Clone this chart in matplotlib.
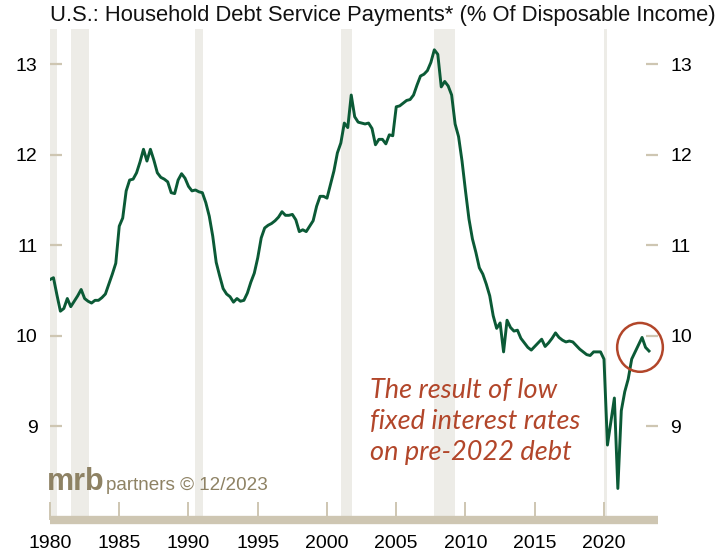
import matplotlib
matplotlib.use("Agg")
import matplotlib.pyplot as plt
from matplotlib.patches import Ellipse
import numpy as np

# Quarterly household debt service ratio, % of disposable income, from 1980 Q1
start_year = 1980
debt_service = [
    10.62, 10.64, 10.45, 10.27,   # 1980
    10.30, 10.41, 10.32, 10.38,   # 1981
    10.44, 10.51, 10.41, 10.38,   # 1982
    10.36, 10.39, 10.39, 10.42,   # 1983
    10.46, 10.57, 10.68, 10.80,   # 1984
    11.21, 11.30, 11.60, 11.72,   # 1985
    11.73, 11.80, 11.92, 12.06,   # 1986
    11.93, 12.06, 11.94, 11.80,   # 1987
    11.75, 11.73, 11.70, 11.58,   # 1988
    11.57, 11.72, 11.79, 11.74,   # 1989
    11.65, 11.60, 11.61, 11.59,   # 1990
    11.58, 11.47, 11.32, 11.10,   # 1991
    10.81, 10.66, 10.52, 10.46,   # 1992
    10.43, 10.37, 10.41, 10.38,   # 1993
    10.39, 10.47, 10.59, 10.69,   # 1994
    10.86, 11.08, 11.19, 11.22,   # 1995
    11.24, 11.27, 11.31, 11.37,   # 1996
    11.33, 11.33, 11.34, 11.28,   # 1997
    11.15, 11.17, 11.15, 11.21,   # 1998
    11.27, 11.43, 11.54, 11.54,   # 1999
    11.52, 11.67, 11.82, 12.02,   # 2000
    12.13, 12.35, 12.30, 12.66,   # 2001
    12.42, 12.36, 12.35, 12.34,   # 2002
    12.35, 12.29, 12.11, 12.17,   # 2003
    12.17, 12.12, 12.22, 12.21,   # 2004
    12.53, 12.54, 12.57, 12.60,   # 2005
    12.61, 12.66, 12.77, 12.87,   # 2006
    12.89, 12.93, 13.02, 13.16,   # 2007
    13.11, 12.75, 12.81, 12.76,   # 2008
    12.66, 12.34, 12.20, 11.93,   # 2009
    11.60, 11.29, 11.07, 10.92,   # 2010
    10.75, 10.68, 10.57, 10.44,   # 2011
    10.22, 10.08, 10.14, 9.82,    # 2012
    10.17, 10.09, 10.05, 10.06,   # 2013
    9.97, 9.92, 9.87, 9.84,       # 2014
    9.88, 9.92, 9.96, 9.88,       # 2015
    9.92, 9.97, 10.03, 9.98,      # 2016
    9.95, 9.93, 9.94, 9.93,       # 2017
    9.89, 9.85, 9.82, 9.79,       # 2018
    9.78, 9.82, 9.82, 9.82,       # 2019
    9.74, 8.79, 9.05, 9.31,       # 2020
    8.31, 9.17, 9.38, 9.52,       # 2021
    9.74, 9.82, 9.90, 9.98,       # 2022
    9.87, 9.83,                   # 2023
]

# Recession periods (quarter boundaries, decimal years)
recession_start = [1980.0, 1981.5, 1990.5, 2001.0, 2007.75, 2020.0]
recession_end = [1980.5, 1982.8, 1991.05, 2001.8, 2009.25, 2020.2]

x_ticks = [1980, 1985, 1990, 1995, 2000, 2005, 2010, 2015, 2020]
y_ticks = [9, 10, 11, 12, 13]

title = "U.S.: Household Debt Service Payments* (% Of Disposable Income)"
note_lines = ["The result of low", "fixed interest rates", "on pre-2022 debt"]

LINE = "#0B5A36"
RUST = "#B2462A"
SHADE = "#EDECE7"
TAN = "#CEC6B2"
LOGO = "#8E8264"

plt.rcParams["font.family"] = ["Liberation Sans", "DejaVu Sans"]

W, H = 722, 555
bottom_px = 516
fig = plt.figure(figsize=(W / 100, H / 100), dpi=100)
ax = fig.add_axes([50 / W, 1 - bottom_px / H, 608 / W, (bottom_px - 29) / H])

years = start_year + np.arange(len(debt_service)) / 4.0

for s, e in zip(recession_start, recession_end):
    ax.axvspan(s, e, color=SHADE, lw=0, zorder=0)

ax.plot(years, debt_service, color=LINE, lw=2.1, zorder=3, solid_joinstyle="round")

ax.set_xlim(1980, 2023.9)
ax.set_ylim(9 - (bottom_px - 426) / 90.5, 13.39)

for side in ("top", "left", "right"):
    ax.spines[side].set_visible(False)
ax.spines["bottom"].set_color(TAN)
ax.spines["bottom"].set_linewidth(6.0)
ax.spines["bottom"].set_capstyle("butt")
ax.spines["bottom"].set_position(("outward", 3))

ax.set_xticks(x_ticks)
ax.set_xticklabels([str(t) for t in x_ticks])
ax.set_yticks(y_ticks)
ax.set_yticklabels([str(t) for t in y_ticks])

ax.tick_params(axis="x", direction="in", length=13, width=1.4, color=TAN,
               labelsize=14, pad=11, labelcolor="black")
ax.tick_params(axis="y", direction="in", length=8.5, width=1.6, color=TAN,
               labelsize=14, pad=9, left=True, right=True,
               labelleft=True, labelright=True, labelcolor="black")

# circled latest readings
ax.add_patch(Ellipse((2022.6, 9.87), width=3.3, height=0.54, fill=False,
                     ec=RUST, lw=1.8, zorder=4, clip_on=False))

fig.text(50 / W, 1 - 16 / H, title, fontsize=15.8, ha="left", va="center",
         color="#111111")

fig.text(370 / W, 1 - 378 / H, "\n".join(note_lines), fontsize=19.5,
         family=["Lato", "DejaVu Sans"], style="italic", color=RUST,
         ha="left", va="top", linespacing=1.3)

fig.text(47 / W, 1 - 490 / H, "mrb", fontsize=22, fontweight="bold",
         color=LOGO, ha="left", va="baseline")
fig.text(106 / W, 1 - 490 / H, "partners \u00a9 12/2023", fontsize=13.6,
         color=LOGO, ha="left", va="baseline")

fig.savefig("out.png", dpi=100)
